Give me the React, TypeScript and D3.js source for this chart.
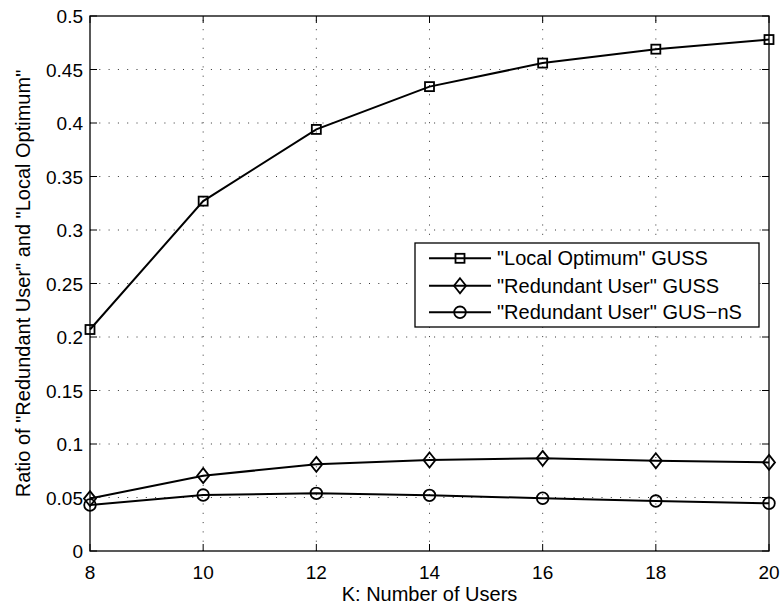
import * as d3 from 'd3'

const users = [8, 10, 12, 14, 16, 18, 20]
const localOptGUSS = [0.207, 0.327, 0.394, 0.434, 0.456, 0.469, 0.478]
const redundantGUSS = [0.049, 0.0704, 0.081, 0.085, 0.0866, 0.0844, 0.0828]
const redundantGUSnS = [0.043, 0.0523, 0.0539, 0.052, 0.0493, 0.0467, 0.0446]

const xTicks = [8, 10, 12, 14, 16, 18, 20]
const yTicks = [0, 0.05, 0.1, 0.15, 0.2, 0.25, 0.3, 0.35, 0.4, 0.45, 0.5]
const legendLabels = ['"Local Optimum" GUSS', '"Redundant User" GUSS', '"Redundant User" GUS\u2212nS']

type Marker = 'square' | 'diamond' | 'circle'
const seriesList: { values: number[]; marker: Marker }[] = [
  { values: localOptGUSS, marker: 'square' },
  { values: redundantGUSS, marker: 'diamond' },
  { values: redundantGUSnS, marker: 'circle' },
]

const W = 782
const H = 608
const L = 90
const R = 769
const T = 16
const B = 551
const font = 'Liberation Sans, Arial, Helvetica, sans-serif'

function MarkerShape({ kind, x, y }: { kind: Marker; x: number; y: number }) {
  const common = { fill: 'none', stroke: '#000', strokeWidth: 1.8 }
  if (kind === 'square') return <rect x={x - 4.5} y={y - 4.5} width={9} height={9} {...common} />
  if (kind === 'diamond')
    return <path d={`M${x},${y - 7.5}L${x + 6},${y}L${x},${y + 7.5}L${x - 6},${y}Z`} {...common} />
  return <circle cx={x} cy={y} r={5.8} {...common} />
}

export default function App() {
  const x = d3.scaleLinear().domain([8, 20]).range([L, R])
  const y = d3.scaleLinear().domain([0, 0.5]).range([B, T])

  const line = d3
    .line<number>()
    .x((_, i) => x(users[i]))
    .y((d) => y(d))

  const tick = 7
  const legend = { x0: 415, y0: 243, x1: 759, y1: 327, rows: [258.3, 285.7, 312.3] }

  return (
    <svg width={W} height={H} style={{ position: 'absolute', left: 0, top: 0, background: '#fff' }} fontFamily={font}>
      <rect x={0} y={0} width={W} height={H} fill="#fff" />
      {/* grid */}
      <g stroke="#000" strokeWidth={1} strokeDasharray="1,8.3" opacity={0.8}>
        {xTicks.slice(1, -1).map((t) => (
          <line key={'gx' + t} x1={x(t)} x2={x(t)} y1={B} y2={T} />
        ))}
        {yTicks.slice(1, -1).map((t) => (
          <line key={'gy' + t} x1={L} x2={R} y1={y(t)} y2={y(t)} />
        ))}
      </g>
      {/* ticks */}
      <g stroke="#000" strokeWidth={1}>
        {xTicks.map((t) => (
          <g key={'tx' + t}>
            <line x1={x(t)} x2={x(t)} y1={B} y2={B - tick} />
            <line x1={x(t)} x2={x(t)} y1={T} y2={T + tick} />
          </g>
        ))}
        {yTicks.map((t) => (
          <g key={'ty' + t}>
            <line x1={L} x2={L + tick} y1={y(t)} y2={y(t)} />
            <line x1={R} x2={R - tick} y1={y(t)} y2={y(t)} />
          </g>
        ))}
      </g>
      <rect x={L} y={T} width={R - L} height={B - T} fill="none" stroke="#000" strokeWidth={1.3} />
      {/* tick labels */}
      <g fontSize={19} fill="#000">
        {xTicks.map((t) => (
          <text key={'lx' + t} x={x(t)} y={579} textAnchor="middle">
            {t}
          </text>
        ))}
        {yTicks.map((t) => (
          <text key={'ly' + t} x={83} y={y(t) + 7} textAnchor="end">
            {t}
          </text>
        ))}
      </g>
      <text x={(L + R) / 2} y={601} textAnchor="middle" fontSize={20}>
        K: Number of Users
      </text>
      <text transform={`translate(30,${(T + B) / 2}) rotate(-90)`} textAnchor="middle" fontSize={20}>
        Ratio of "Redundant User" and "Local Optimum"
      </text>
      {/* series */}
      {seriesList.map((s, si) => (
        <g key={'s' + si}>
          <path d={line(s.values) ?? ''} fill="none" stroke="#000" strokeWidth={2} />
          {s.values.map((v, i) => (
            <MarkerShape key={i} kind={s.marker} x={x(users[i])} y={y(v)} />
          ))}
        </g>
      ))}
      {/* legend */}
      <rect
        x={legend.x0}
        y={legend.y0}
        width={legend.x1 - legend.x0}
        height={legend.y1 - legend.y0}
        fill="#fff"
        stroke="#000"
        strokeWidth={1.3}
      />
      {seriesList.map((s, i) => (
        <g key={'lg' + i}>
          <line x1={429} x2={491} y1={legend.rows[i]} y2={legend.rows[i]} stroke="#000" strokeWidth={2} />
          <MarkerShape kind={s.marker} x={460} y={legend.rows[i]} />
          <text x={497} y={legend.rows[i] + 7} fontSize={20}>
            {legendLabels[i]}
          </text>
        </g>
      ))}
    </svg>
  )
}
